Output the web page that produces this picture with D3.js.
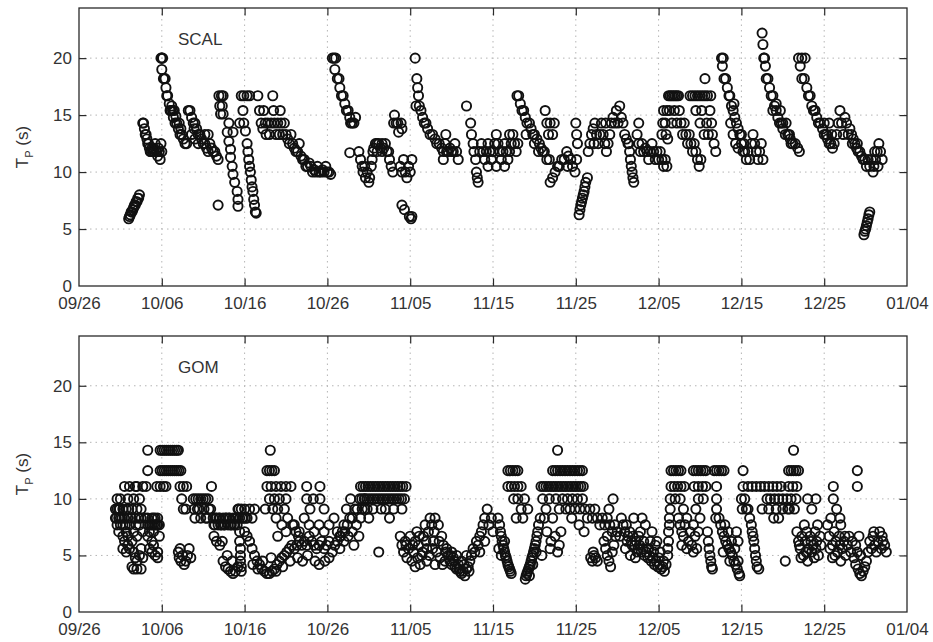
<!DOCTYPE html>
<html><head><meta charset="utf-8">
<script src="https://cdn.jsdelivr.net/npm/d3@7"></script>
<style>body{margin:0;background:#fff}text{font-family:"Liberation Sans",Arial,Helvetica,sans-serif}</style>
</head><body>
<svg id="c" width="933" height="642"></svg>
<script>
// x = days since 09/26
const xTickDays = [0,10,20,30,40,50,60,70,80,90,100];
const xTickLabels = ["09/26","10/06","10/16","10/26","11/05","11/15","11/25","12/05","12/15","12/25","01/04"];
const yTicks = [0,5,10,15,20];
const yLabel = "T";
const ySub = "P";
const yUnit = " (s)";

const scalData = [
[6.0,5.9],[6.1,6.1],[6.2,6.25],[6.3,6.5],[6.4,6.5],[6.5,6.7],[6.6,6.9],[6.7,7.1],[6.8,7.1],[6.9,7.4],[7.0,7.4],[7.1,7.7],[7.2,7.7],[7.3,8.0],
[7.7,14.3],[7.8,14.3],[7.9,13.8],[8.0,13.3],[8.1,13.3],[8.2,12.9],[8.3,12.5],[8.4,12.5],[8.5,12.1],[8.6,11.8],[8.7,11.8],[8.8,12.1],[8.9,11.8],[9.0,12.1],[9.1,11.8],[9.2,12.5],[9.3,11.8],[9.4,11.8],[9.5,11.4],[9.6,12.1],[9.7,11.8],[9.8,11.1],[9.9,12.5],[10.0,11.8],
[9.9,20],[10.0,20],[10.1,20],[10.0,19.0],[10.2,18.2],[10.3,18.2],[10.4,18.2],[10.5,17.4],[10.6,16.7],[10.7,16.7],[10.9,16.0],[11.0,15.4],[11.1,15.4],[11.3,15.4],[11.4,14.8],[11.6,14.3],[11.8,14.3],[12.0,13.8],[12.2,13.3],[12.4,13.3],[12.6,12.9],[12.8,12.5],[13.0,12.5],[11.2,15.8],[11.5,15.4],[11.7,14.9],[12.1,14.3],[12.3,13.8],
[13.2,15.4],[13.4,15.4],[13.6,14.8],[13.8,14.3],[14.0,14.3],[14.2,13.8],[14.4,13.3],[14.6,13.3],[14.8,12.9],[15.0,12.5],[15.2,12.5],[15.4,12.1],[15.6,11.8],[15.8,12.5],[16.0,12.1],[16.2,11.8],[16.4,11.8],[16.6,11.4],[16.8,11.1],[13.6,13.3],[14.0,12.9],[14.4,12.5],[13.9,13.8],[15.2,13.3],[15.6,13.3],
[16.8,7.1],[16.9,16.7],[17.2,16.7],[17.4,16.7],[17.0,15.8],[17.3,15.8],[17.1,15.1],[17.4,15.1],[18.1,14.3],[17.9,13.5],[18.1,12.7],[18.3,12.0],[18.3,11.3],[18.5,10.5],[18.6,9.8],[18.8,9.1],[19.1,8.3],[19.2,7.6],[19.2,7.0],[18.6,13.5],[19.4,14.3],
[19.6,16.7],[19.9,16.7],[20.3,16.7],[20.6,16.7],[19.8,15.4],[19.9,14.3],[20.1,13.6],[20.3,12.5],[20.4,11.8],[20.5,11.1],[20.6,10.5],[20.7,10.0],[20.8,9.3],[20.9,8.7],[21.0,8.3],[21.1,7.6],[21.2,7.1],[21.3,6.5],[21.4,6.4],
[21.6,16.7],[21.8,15.4],[22.0,14.3],[22.2,13.8],[22.3,15.4],[22.5,14.3],[22.6,13.3],[22.8,14.3],[23.0,13.3],[23.2,14.3],[23.4,16.7],[23.5,15.4],[23.6,14.3],[23.8,13.3],[24.0,14.3],[24.2,13.3],[24.3,15.4],[24.4,14.3],[24.6,13.3],[24.8,14.3],[25.0,13.3],[25.2,12.9],[25.4,12.5],[25.6,13.3],[25.8,12.5],[26.0,12.1],[26.2,11.8],[26.4,11.8],[26.6,12.5],[26.8,11.4],[27.0,11.1],[27.2,11.1],[27.4,10.5],[27.6,10.5],[27.8,10.8],[28.0,10.5],[28.2,10.0],[28.4,10.2],[28.6,10.0],[28.8,10.5],[29.0,10.0],[29.2,10.0],[29.4,10.2],[29.6,10.0],[29.8,10.5],[30.0,10.0],[30.2,10.0],[30.4,9.8],
[30.6,20],[30.8,20],[31.0,20],[30.9,19.0],[31.2,18.2],[31.4,18.2],[31.5,17.4],[31.7,16.7],[31.9,16.7],[32.1,16.0],[32.3,15.4],[32.5,15.4],[32.7,14.8],[32.8,14.3],[33.0,14.3],[33.2,14.3],[33.4,14.8],[32.7,11.7],
[33.8,11.8],[34.0,11.1],[34.2,10.5],[34.3,10.0],[34.5,10.5],[34.6,9.5],[34.8,10.0],[35.0,9.1],[35.1,9.5],[35.3,10.5],[35.4,11.1],[35.5,11.8],[35.6,12.1],[35.8,12.5],[36.0,12.5],[36.2,12.5],[36.4,12.1],[36.6,12.5],[36.8,12.1],[37.0,12.5],[37.2,11.8],[37.4,11.8],[37.5,11.1],[37.7,10.5],[37.9,10.0],[36.0,11.8],[36.6,11.8],
[38.0,14.3],[38.1,15.0],[38.3,14.3],[38.5,14.3],[38.6,13.5],[38.9,14.3],[39.0,13.8],
[38.8,10.5],[39.0,10.0],[39.2,11.1],[39.4,10.0],[39.6,9.5],[39.8,10.5],[40.0,10.0],[40.2,11.1],
[39.0,7.1],[39.3,6.7],[39.9,6.1],[40.1,5.9],[40.2,6.1],
[40.6,20],[40.8,18.2],[40.9,17.4],[41.0,16.7],[40.7,15.8],[41.1,15.8],[41.3,15.4],[41.5,14.8],[41.7,14.3],[41.9,14.3],[42.1,13.8],[42.4,13.3],[42.7,13.3],[43.0,12.9],[43.2,12.5],[43.5,12.5],[43.8,12.1],[44.0,11.8],[44.2,12.5],[44.4,11.8],[44.6,11.8],[44.8,12.1],[45.0,11.8],[45.2,11.8],[45.4,12.5],[45.6,11.8],[45.8,11.1],[44.0,11.1],[44.3,13.3],
[46.8,15.8],[47.3,14.3],[47.4,13.3],[47.6,12.5],[47.7,11.8],[47.9,11.1],[48.0,10.0],[48.1,9.5],[48.2,9.1],
[48.4,11.8],[48.6,12.5],[48.8,11.8],[49.0,11.1],[49.2,11.8],[49.4,12.5],[49.6,11.8],[49.8,11.1],[50.0,11.8],[50.2,12.5],[50.4,13.3],[50.6,12.5],[50.8,11.8],[51.0,11.1],[51.2,11.8],[51.4,12.5],[51.6,11.8],[51.8,11.1],[52.0,11.8],[52.2,12.5],[52.4,13.3],[52.6,12.5],[52.8,11.8],[53.0,12.5],[50.4,10.5],[49.4,10.5],[51.4,10.5],[52.0,13.3],
[52.9,16.7],[53.1,16.7],[53.3,16.0],[53.5,15.4],[53.7,15.4],[53.9,14.8],[54.1,14.3],[54.4,14.3],[54.6,13.8],[54.8,13.3],[55.0,13.3],[55.3,12.9],[55.6,12.5],[55.8,12.1],[56.0,11.8],[56.2,11.8],[56.5,11.1],[56.8,11.1],[54.0,13.3],[55.0,12.5],[55.5,11.8],
[56.3,15.4],[56.5,14.3],[56.7,13.3],[56.9,14.3],[57.2,13.3],[57.4,14.3],
[56.9,9.1],[57.2,9.5],[57.5,10.0],[57.8,10.5],[58.0,10.5],[58.3,11.1],[58.6,11.1],[58.9,11.8],[59.1,11.4],[59.4,11.1],[59.6,10.5],[59.9,10.0],[60.1,11.1],[59.0,10.5],
[60.4,6.25],[60.5,6.7],[60.6,7.1],[60.7,7.4],[60.8,7.7],[60.9,8.0],[61.0,8.3],[61.1,8.7],[61.2,9.1],[61.4,9.5],
[60.0,14.3],[60.1,13.3],[60.2,12.5],
[61.5,11.8],[61.7,12.5],[61.9,13.3],[62.1,13.8],[62.3,14.3],[62.5,13.3],[62.7,12.5],[62.9,13.3],[63.1,14.3],[63.3,13.3],[63.5,12.5],[63.7,11.8],[63.9,12.5],[64.1,13.3],[64.3,14.3],[64.5,14.8],[64.7,14.3],[64.9,15.4],[65.1,14.3],[65.3,15.8],[65.5,14.8],[65.7,14.3],[65.9,13.3],[66.1,12.9],[66.3,12.5],[62.2,12.5],[63.6,14.3],
[66.4,12.5],[66.5,11.8],[66.6,11.1],[66.7,10.5],[66.8,10.0],[66.9,9.5],[67.0,9.1],[67.6,14.3],
[67.4,13.3],[67.6,12.5],[67.8,11.8],[68.0,12.5],[68.2,11.8],[68.4,12.1],[68.6,11.8],[68.8,11.1],[69.0,11.8],[69.2,12.5],[69.4,11.8],[69.6,11.1],[69.8,11.8],[70.0,11.1],[70.2,11.8],[70.4,11.1],[70.6,10.5],[70.8,11.1],[71.0,10.5],[71.1,12.9],
[70.4,13.3],[70.5,14.3],[70.6,15.4],[70.8,14.3],[70.9,13.3],[71.0,15.4],[71.2,16.7],[71.4,16.7],[71.6,16.7],[71.8,16.7],[72.0,16.7],[72.2,16.7],[72.4,16.7],[71.3,15.4],[71.6,14.3],[71.9,15.4],[72.2,14.3],[72.5,15.4],[72.7,14.3],[72.9,13.3],[73.1,14.3],[73.3,13.3],[73.5,12.5],[73.7,13.3],[73.9,12.5],[74.1,11.8],[74.3,12.5],[74.5,11.8],[74.7,11.1],[74.9,10.5],[75.1,11.1],
[73.8,16.7],[74.1,16.7],[74.4,16.7],[74.7,16.7],[75.0,16.7],[75.3,16.7],[75.6,16.7],[75.9,16.7],[76.3,16.7],[75.6,18.2],
[76.2,15.4],[76.4,14.3],[76.5,13.3],[76.7,12.5],[76.9,11.8],[74.5,15.4],[75.0,14.3],[75.2,15.4],[75.5,13.3],[75.8,14.3],[76.0,13.3],
[77.6,20],[77.8,20],[77.7,19.3],[77.9,18.2],[78.1,18.2],[78.3,17.4],[78.5,16.7],[78.6,16.7],[78.8,15.8],[79.0,15.4],[79.2,14.8],[79.4,14.3],[79.6,13.8],[79.8,13.3],[80.0,12.5],[80.2,11.8],[80.4,11.8],[78.7,14.3],[79.0,13.3],[79.3,12.5],[79.6,12.1],[79.1,16.0],[80.0,13.3],[80.3,12.5],[80.6,11.1],[80.8,11.8],[81.0,11.1],
[81.2,12.5],[81.4,13.3],[81.6,12.5],[81.8,11.8],[82.0,11.1],[82.2,11.8],[82.4,12.5],[82.6,11.1],
[82.5,22.2],[82.6,21.2],[82.7,20],[82.8,20],[82.9,19.3],[83.0,18.2],[83.2,18.2],[83.4,17.4],[83.6,16.7],[83.8,16.7],[84.0,15.8],[84.2,15.4],[84.4,14.8],[84.6,14.3],[84.8,14.3],[85.0,13.8],[85.3,13.3],[85.6,13.3],[85.9,12.9],[86.2,12.5],[86.5,12.5],[86.8,12.1],[87.0,11.8],[83.8,15.4],[84.2,16.0],[84.7,15.4],[85.0,14.3],[85.4,14.3],[85.8,13.3],[86.0,12.5],
[86.9,20],[87.3,20],[87.7,20],[87.1,19.3],[87.3,18.2],[87.6,18.2],[87.9,17.4],[88.1,16.7],[88.3,16.7],[88.5,15.8],[88.7,15.4],[88.9,15.4],[89.1,14.8],[89.3,14.3],[89.5,14.3],[89.8,13.8],[90.0,13.3],[90.2,13.3],[90.4,12.9],[90.6,12.5],[90.8,12.5],[91.0,12.1],
[90.0,14.3],[90.3,13.3],[90.6,14.3],[90.9,13.3],[91.2,12.5],[91.5,13.3],[91.7,14.3],[91.9,15.4],[92.1,14.3],[92.3,13.3],[92.5,14.8],[92.7,14.3],[92.9,13.3],
[93.1,13.8],[93.3,13.3],[93.5,12.9],[93.7,12.5],[93.9,12.1],[94.1,11.8],[94.3,11.8],[94.5,11.4],[94.7,11.1],[94.9,11.1],[93.4,12.5],[94.0,12.5],
[95.1,10.5],[95.3,11.1],[95.5,10.5],[95.7,11.1],[95.9,10.0],[96.0,10.5],[96.2,11.1],[96.4,11.8],[96.6,12.5],[96.8,11.8],[97.0,11.1],[96.5,10.5],[96.1,11.8],
[94.8,4.5],[94.9,4.8],[95.0,5.0],[95.1,5.3],[95.2,5.6],[95.3,5.9],[95.4,6.25],[95.5,6.5]
];

const gomData = [
[4.4,9.1],[4.4,8.3],[4.6,10.0],[4.6,9.1],[4.6,7.7],[4.8,9.1],[4.8,8.3],[4.8,7.1],[5.0,10.0],[5.0,8.3],[5.0,7.7],
[4.5,8.3],[4.9,9.1],[5.2,8.3],[5.6,7.7],[6.0,9.1],[6.3,8.3],[6.9,7.7],[7.2,8.3],[8.0,8.3],[8.6,7.7],[9.0,7.1],[9.4,7.7],
[5.3,9.1],[5.3,7.7],[5.3,6.7],[5.3,5.6],[5.5,11.1],[5.5,8.3],[5.5,6.25],[5.7,9.1],[5.7,7.1],[5.7,5.3],
[5.9,10.0],[5.9,8.3],[5.9,6.7],[5.9,5.9],[6.1,11.1],[6.1,7.7],[6.1,5.6],[6.4,9.1],[6.4,6.25],[6.4,4.0],
[6.6,10.0],[6.6,7.1],[6.6,5.3],[6.6,3.8],[6.8,11.1],[6.8,8.3],[6.8,4.8],[7.0,11.1],[7.0,9.1],[7.0,6.7],[7.0,4.5],[7.0,3.8],
[7.3,10.0],[7.3,7.7],[7.3,5.0],[7.5,9.1],[7.5,8.3],[7.5,5.6],[7.5,3.8],[7.7,11.1],[7.7,7.1],[7.7,4.8],
[8.3,14.3],[8.3,12.5],[8.1,11.1],[8.3,8.3],[8.3,7.7],[8.3,6.7],[8.5,7.1],[8.5,5.6],
[8.8,8.3],[8.8,7.7],[8.8,6.25],[8.8,5.3],[9.0,8.3],[9.0,7.7],[9.0,5.9],[9.2,7.7],[9.2,8.3],[9.2,5.0],[9.5,8.3],[9.5,7.7],[9.5,5.3],[9.5,4.8],[9.7,7.7],[9.7,6.7],
[9.8,14.3],[10.05,14.3],[10.3,14.3],[10.55,14.3],[10.8,14.3],[11.05,14.3],[11.3,14.3],[11.55,14.3],[11.8,14.3],[12.0,14.3],
[9.8,12.5],[10.05,12.5],[10.3,12.5],[10.55,12.5],[10.8,12.5],[11.05,12.5],[11.3,12.5],[11.55,12.5],[11.8,12.5],[12.05,12.5],[12.3,12.5],
[9.4,11.1],[9.8,11.1],[10.2,11.1],[10.5,11.1],[12.2,11.1],[12.6,11.1],[13.0,11.1],[12.4,10.0],[12.6,9.1],[12.9,9.1],
[12.0,5.3],[12.2,5.6],[12.3,4.5],[12.5,5.0],[12.7,4.2],[12.9,4.5],[13.1,5.0],[13.3,5.6],[13.5,4.8],[12.1,4.8],
[13.8,10],[14.1,10],[14.4,10],[14.7,10],[15.0,10],[15.3,10],[15.6,10],[13.9,9.1],[14.3,9.1],[14.7,8.3],[15.1,9.1],[15.5,8.3],[15.9,9.1],[16.0,11.1],
[14.0,8.3],[14.5,9.1],[15.3,8.3],[15.7,9.1],
[16.2,8.3],[16.4,7.7],[16.6,8.3],[16.8,7.7],[17.0,8.3],[17.2,7.7],[17.4,8.3],[17.6,7.7],[17.8,8.3],[18.0,7.7],[18.2,8.3],[18.4,7.7],[18.6,8.3],[18.8,7.7],[19.0,8.3],[19.2,9.1],[19.4,8.3],[19.6,9.1],[19.8,8.3],[20.0,9.1],[20.3,8.3],[20.6,9.1],[20.9,8.3],[21.2,9.1],
[16.3,7.7],[16.5,8.3],[16.9,8.3],[17.1,7.7],[17.5,7.7],[17.7,8.3],[18.1,8.3],[18.3,7.7],[18.7,7.7],[18.9,8.3],[19.1,7.7],[19.3,9.1],[19.7,8.3],[20.1,8.3],
[16.3,6.7],[16.6,6.25],[17.0,5.9],[17.3,6.25],
[17.4,4.5],[17.7,4.0],[18.0,3.8],[18.3,3.6],[18.6,3.4],[18.9,3.6],[19.2,4.0],[17.9,5.0],[18.5,4.5],
[19.4,7.1],[19.4,6.25],[19.5,5.6],[19.5,5.0],[19.5,4.5],[19.6,4.0],[19.6,3.6],
[20.0,7.1],[20.3,6.7],[20.6,6.25],[20.9,5.6],[21.2,5.0],[21.5,4.5],[21.8,4.2],[22.1,3.8],[22.4,3.6],[22.7,3.4],[23.0,3.4],[23.3,3.6],[23.6,3.8],[23.9,4.2],[24.2,4.5],[24.5,4.8],[24.8,5.0],[25.1,5.3],[25.4,5.6],[25.7,5.9],[26.0,5.6],[26.3,5.9],[26.6,6.25],[26.9,5.9],[27.2,6.25],[27.5,5.9],[27.8,6.7],[28.1,6.25],[28.4,5.9],[28.7,5.6],[29.0,5.9],[29.3,6.25],[29.6,5.6],[29.9,5.9],[30.2,6.25],
[21.0,4.2],[21.6,3.8],[22.2,4.5],[23.2,4.8],[23.8,3.6],[24.6,4.0],[25.5,4.5],[26.4,4.8],[27.0,4.5],[27.6,5.0],[28.5,4.5],[29.0,4.2],[29.7,4.5],[30.2,4.8],
[26.0,7.7],[26.6,7.1],[27.2,8.3],[27.8,7.7],[28.4,7.1],[29.0,7.7],[29.6,7.1],[30.2,7.7],[30.8,8.3],[31.2,7.1],[31.6,6.7],[32.0,7.7],
[23.1,14.3],[22.7,12.5],[23.0,12.5],[23.3,12.5],[23.6,12.5],[22.7,11.1],[23.2,11.1],[23.8,11.1],[24.4,11.1],[25.0,11.1],[25.6,11.1],
[23.0,10],[23.6,10],[24.2,10],[25.0,10],[22.5,9.1],[23.4,9.1],[24.0,9.1],[24.8,9.1],[23.8,8.3],[24.5,7.7],[25.2,8.3],[25.8,7.7],[24.0,6.7],[25.0,7.1],[26.2,7.1],[26.5,6.7],
[27.5,11.1],[29.1,11.1],[27.5,10],[28.3,10],[29.1,10],[29.6,9.1],[27.9,9.1],
[30.6,5.3],[30.9,5.9],[31.2,6.25],[31.5,6.7],[31.8,7.1],[32.1,7.1],[32.4,7.7],[32.7,8.3],[33.0,8.3],[33.3,9.1],[33.6,9.1],[33.9,10],[34.2,9.1],[34.5,10],[34.8,9.1],[31.5,5.6],[32.0,6.25],[32.5,6.7],[33.0,7.1],[33.5,7.7],[34.0,8.3],[32.3,9.1],[32.8,10],[33.2,5.9],[33.8,6.7],
[34.0,11.1],[34.3,11.1],[34.6,11.1],[34.9,11.1],[35.2,11.1],[35.5,11.1],[35.8,11.1],[36.1,11.1],[36.4,11.1],[36.7,11.1],[37.0,11.1],[37.3,11.1],[37.6,11.1],[37.9,11.1],[38.2,11.1],[38.5,11.1],[38.8,11.1],[39.1,11.1],[39.5,11.1],
[34.15,10],[34.45,10],[34.75,10],[35.05,10],[35.35,10],[35.65,10],[35.95,10],[36.25,10],[36.55,10],[36.85,10],[37.15,10],[37.45,10],[37.75,10],[38.05,10],[38.35,10],[38.65,10],[38.95,10],[39.3,10],
[34.5,9.1],[35.5,9.1],[36.5,9.1],[37.0,9.1],[38.0,9.1],[39.0,9.1],[35.0,8.3],[37.5,8.3],[36.2,5.3],
[38.8,6.7],[39.0,5.9],[39.2,5.3],[39.4,6.25],[39.6,4.8],[39.8,5.6],[40.0,6.7],[40.2,4.5],[40.4,5.3],[40.6,6.25],[40.8,7.1],[41.0,5.9],[41.2,4.2],[41.4,5.0],[41.6,6.7],[41.8,7.7],[42.0,5.6],[42.2,7.1],[42.4,8.3],[42.6,7.7],[42.8,6.25],[43.0,8.3],[43.2,5.3],[43.4,7.7],[43.6,4.8],[43.8,6.7],[44.0,5.9],[44.2,4.5],[44.4,5.6],[44.6,5.0],[40.6,4.0],[42.0,4.5],[43.0,4.2],[42.9,7.1],[41.5,5.3],
[39.5,5.9],[40.3,5.9],[41.1,6.7],[41.9,6.25],[42.7,5.6],[43.5,6.25],[44.3,5.3],[40.9,4.8],[42.3,5.0],[43.9,4.2],
[44.8,4.5],[45.0,4.2],[45.2,4.8],[45.4,4.0],[45.6,3.8],[45.8,4.2],[46.0,3.6],[46.2,3.4],[46.4,3.6],[46.6,3.2],[46.8,3.8],[47.0,4.0],[47.2,4.5],[45.6,5.0],[46.2,4.5],[46.8,5.0],[45.0,5.3],
[45.3,4.5],[45.9,3.8],[46.5,4.2],[47.1,3.6],[44.9,5.0],
[47.4,5.0],[47.6,5.6],[47.8,5.3],[48.0,6.25],[48.2,5.9],[48.4,6.7],[48.6,7.1],[48.8,7.7],[49.0,8.3],[49.3,9.1],[48.4,5.3],[49.0,6.25],[49.5,7.7],[49.8,8.3],[50.0,7.1],
[50.6,8.3],[50.8,7.7],[50.9,7.1],[51.0,6.7],[51.1,6.25],[51.2,5.9],[51.3,5.6],[51.4,5.3],[51.5,5.0],[51.6,4.8],[51.7,4.5],[51.8,4.2],[51.9,4.0],[52.0,3.8],[52.1,3.6],[52.2,3.4],[50.7,5.6],[51.0,5.0],[51.4,6.25],
[51.8,12.5],[52.1,12.5],[52.4,12.5],[52.7,12.5],[53.0,12.5],[51.8,11.1],[52.2,11.1],[52.6,11.1],[53.0,11.1],[53.4,11.1],
[52.5,10],[53.0,10],[53.4,9.1],[53.8,10],[54.2,9.1],[52.8,8.3],[53.6,8.3],
[53.9,2.9],[54.0,3.2],[54.1,3.4],[54.2,3.6],[54.3,3.8],[54.4,4.0],[54.5,4.2],[54.6,4.5],[54.7,4.8],[54.8,5.0],[54.9,5.3],[55.0,5.6],[55.1,5.9],[55.2,6.25],[55.3,6.7],[55.4,7.1],[55.5,7.7],[55.7,8.3],[54.4,3.2],[54.8,4.2],[55.2,5.3],
[55.8,11.1],[56.1,11.1],[56.4,11.1],[56.7,11.1],[57.0,11.1],[57.3,11.1],[57.6,11.1],[57.9,11.1],[58.2,11.1],[58.5,11.1],[58.8,11.1],[59.1,11.1],[59.4,11.1],[59.7,11.1],[60.0,11.1],[60.3,11.1],[60.6,11.1],[60.9,11.1],
[57.2,12.5],[57.5,12.5],[57.8,12.5],[58.1,12.5],[58.4,12.5],[58.7,12.5],[59.0,12.5],[59.3,12.5],[59.6,12.5],[59.9,12.5],[60.2,12.5],[60.5,12.5],[60.8,12.5],[57.8,14.3],
[56.0,10],[56.4,9.1],[56.8,10],[57.2,8.3],[57.6,10],[58.0,9.1],[58.4,10],[58.8,9.1],[56.2,8.3],
[56.5,7.1],[57.0,6.25],[57.5,6.7],[57.8,5.3],[56.9,5.6],[58.2,7.1],[58.0,5.9],[55.9,5.0],
[59.0,10],[59.3,9.1],[59.6,10],[59.9,9.1],[60.2,10],[60.5,9.1],[60.8,10],[61.1,9.1],[61.4,8.3],[61.7,9.1],[62.0,8.3],[62.3,9.1],[62.6,8.3],[62.9,7.7],[63.2,8.3],[63.5,7.7],[63.8,8.3],[64.1,7.7],[64.4,7.1],[64.7,7.7],[65.0,7.1],[65.3,6.7],[59.5,8.3],[60.4,7.7],[61.0,7.1],[64.0,9.1],[64.5,10],
[61.8,4.8],[62.0,4.5],[62.2,5.0],[62.4,4.8],[62.6,4.5],[62.1,5.3],
[63.4,6.25],[63.6,5.6],[63.8,5.0],[64.0,4.5],[64.2,4.0],[64.4,5.3],[64.6,5.9],[64.8,6.7],[63.8,6.7],
[65.5,8.3],[65.7,7.7],[65.9,7.1],[66.1,7.7],[66.3,6.7],[66.5,7.1],[66.7,6.25],[66.9,6.7],[67.1,5.9],[67.3,6.25],[67.5,5.6],[67.7,5.9],[67.9,5.3],[68.1,5.6],[68.3,5.0],[68.5,5.3],[68.7,4.8],[68.9,5.0],[69.1,4.5],[69.3,4.8],[69.5,4.2],[69.7,4.5],[69.9,4.0],[70.1,4.2],[70.3,3.8],[70.5,4.0],[70.7,3.6],[70.9,4.2],[66.0,5.6],[66.6,5.0],[67.2,4.8],[67.8,7.1],[68.4,7.7],[69.0,6.25],[69.6,5.9],[70.2,5.3],[68.0,8.3],[67.0,8.3],[69.2,7.1],
[66.2,6.25],[66.8,5.9],[67.4,5.3],[68.2,6.25],[68.8,5.6],[69.4,5.3],[70.0,4.8],[70.6,4.5],[67.6,6.7],[69.8,6.25],
[71.1,5.0],[71.1,5.6],[71.2,6.25],[71.2,7.1],[71.3,7.7],[71.3,8.3],[71.4,9.1],[71.4,10],
[71.5,12.5],[71.8,12.5],[72.1,12.5],[72.4,12.5],[72.7,12.5],[71.5,11.1],[71.9,11.1],[72.3,11.1],[72.7,11.1],[73.1,11.1],[72.0,10],[72.6,10],
[72.4,8.3],[72.6,7.7],[72.8,7.1],[73.0,6.7],[73.2,7.7],[73.4,8.3],[73.6,6.25],[73.8,7.1],[74.0,5.9],[74.2,7.7],[74.4,6.7],[74.6,5.6],[74.8,7.1],[75.0,8.3],[72.8,5.9],[73.4,5.6],[74.2,5.3],[73.0,9.1],[74.5,9.1],
[74.2,12.5],[74.5,12.5],[74.8,12.5],[75.1,12.5],[75.4,12.5],[75.7,12.5],[74.3,11.1],[74.8,11.1],[75.3,11.1],[75.7,11.1],[74.8,10],[75.4,10],
[75.9,7.1],[76.0,6.25],[76.1,5.6],[76.2,5.0],[76.3,4.5],[76.4,4.0],[76.5,3.8],
[76.7,12.5],[77.0,12.5],[77.3,12.5],[77.6,12.5],[77.9,12.5],[77.0,11.1],[77.0,10],[77.0,9.1],[76.9,8.3],
[77.3,8.3],[77.5,7.7],[77.7,7.1],[77.9,6.7],[78.1,6.25],[78.3,5.9],[78.5,5.6],[78.7,5.3],[78.9,5.0],[79.1,4.5],[79.3,4.2],[79.5,3.8],[79.7,3.4],[79.8,3.2],[78.0,7.7],[78.4,7.1],[78.8,6.25],[79.2,5.6],[79.6,4.5],[78.6,4.5],[77.8,5.3],
[80.2,12.5],[80.2,11.1],[80.0,10],[80.4,10],[80.6,9.1],[80.1,9.1],[79.4,7.1],[79.6,6.25],
[80.8,9.1],[81.0,8.3],[81.2,7.7],[81.3,7.1],[81.4,6.7],[81.5,6.25],[81.6,5.6],[81.7,5.0],[81.8,4.5],[81.9,4.0],[82.1,3.8],
[80.8,11.1],[81.3,11.1],[81.8,11.1],[82.3,11.1],[82.8,11.1],[83.3,11.1],[83.8,11.1],[84.3,11.1],[84.8,11.1],
[83.1,10],[83.5,10],[84.0,10],[84.5,10],[85.0,10],[85.5,10],[82.5,9.1],[83.3,9.1],[84.2,9.1],[85.0,9.1],[85.8,9.1],[83.9,8.3],[84.5,8.3],[85.3,4.5],
[85.7,12.5],[86.0,12.5],[86.3,12.5],[86.6,12.5],[86.9,12.5],[86.3,14.3],[85.7,11.1],[86.2,11.1],[86.7,11.1],[86.0,10],[86.6,10],[85.6,9.1],[86.4,9.1],
[86.7,7.1],[86.9,6.25],[87.1,5.6],[87.3,6.7],[87.5,5.0],[87.7,6.25],[87.9,7.1],[88.1,5.6],[88.3,6.7],[88.5,5.3],[88.7,5.9],[88.9,7.1],[89.1,6.25],[89.3,5.0],[89.5,6.7],[87.2,4.8],[88.0,4.5],[88.8,4.8],[89.2,7.7],[87.6,7.7],
[87.0,5.9],[87.8,5.3],[88.4,6.25],[89.0,5.6],[89.6,5.9],
[88.0,10],[88.5,9.1],[89.0,10],
[90.4,7.7],[90.6,6.7],[90.8,8.3],[91.0,5.9],[91.2,7.1],[91.4,6.25],[91.6,5.3],[91.8,6.7],[92.0,7.7],[92.2,5.6],[92.4,6.25],[92.6,5.0],[92.8,5.9],[91.0,4.8],[92.0,4.5],
[90.7,5.6],[91.3,5.0],[91.9,5.9],[92.5,6.7],
[91.1,11.1],[91.1,10],[91.5,9.1],[91.9,8.3],[94.0,12.5],[94.0,11.1],
[93.0,6.7],[93.2,5.3],[93.4,6.25],[93.6,4.8],[93.8,5.9],[94.0,5.3],[94.2,6.7],[94.4,5.0],
[93.8,4.2],[94.1,3.8],[94.3,3.4],[94.5,3.2],[94.7,3.6],[94.9,4.0],[95.1,4.5],
[95.3,5.3],[95.5,6.25],[95.7,5.6],[95.9,6.7],[96.1,5.9],[96.3,5.3],[96.5,6.25],[96.7,7.1],[96.9,5.6],[97.1,6.25],[97.3,5.9],[97.5,5.3],[96.0,7.1],[97.0,6.7]
];

const svg = d3.select("#c");
const x = d3.scaleLinear().domain([0, 100]).range([79, 907]);
const panels = [
  {name: "SCAL", data: scalData, top: 8, bottom: 286},
  {name: "GOM", data: gomData, top: 336, bottom: 612}
];
const ink = "#2a2a2a";

panels.forEach(p => {
  const y = d3.scaleLinear().domain([0, 24.4]).range([p.bottom, p.top]);
  const g = svg.append("g");

  // dotted grid
  g.append("g").selectAll("line").data(xTickDays.slice(1, -1)).join("line")
    .attr("x1", d => x(d)).attr("x2", d => x(d))
    .attr("y1", p.top).attr("y2", p.bottom)
    .attr("stroke", "#b5b5b5").attr("stroke-width", 1).attr("stroke-dasharray", "1.5,4");
  g.append("g").selectAll("line").data(yTicks.slice(1)).join("line")
    .attr("x1", x.range()[0]).attr("x2", x.range()[1])
    .attr("y1", d => y(d)).attr("y2", d => y(d))
    .attr("stroke", "#b5b5b5").attr("stroke-width", 1).attr("stroke-dasharray", "1.5,4");

  // points
  g.append("g").selectAll("circle").data(p.data).join("circle")
    .attr("cx", d => x(d[0])).attr("cy", d => y(d[1]))
    .attr("r", 4.6).attr("fill", "none")
    .attr("stroke", "#111").attr("stroke-width", 1.9);

  // axes
  const fs = "17px";
  const ax = g.append("g").attr("transform", `translate(0,${p.bottom})`)
    .call(d3.axisBottom(x).tickValues(xTickDays).tickFormat((d, i) => xTickLabels[i])
      .tickSizeInner(-7.5).tickSizeOuter(0).tickPadding(11));
  const axT = g.append("g").attr("transform", `translate(0,${p.top})`)
    .call(d3.axisTop(x).tickValues(xTickDays).tickFormat("").tickSizeInner(-7.5).tickSizeOuter(0));
  const ay = g.append("g").attr("transform", `translate(${x.range()[0]},0)`)
    .call(d3.axisLeft(y).tickValues(yTicks).tickFormat(d3.format("d"))
      .tickSizeInner(-7.5).tickSizeOuter(0).tickPadding(7));
  const ayR = g.append("g").attr("transform", `translate(${x.range()[1]},0)`)
    .call(d3.axisRight(y).tickValues(yTicks).tickFormat("").tickSizeInner(-7.5).tickSizeOuter(0));
  [ax, axT, ay, ayR].forEach(a => {
    a.select(".domain").remove();
    a.selectAll(".tick line").attr("stroke", ink).attr("stroke-width", 1.2);
    a.selectAll(".tick text").attr("fill", "#333").style("font-size", fs)
      .style("font-family", '"Liberation Sans", Arial, Helvetica, sans-serif');
  });
  [ax, axT].forEach(a => a.selectAll(".tick").filter(d => d === 0 || d === 100).select("line").remove());
  [ay, ayR].forEach(a => a.selectAll(".tick").filter(d => d === 0).select("line").remove());

  // box
  g.append("rect").attr("x", x.range()[0]).attr("y", p.top)
    .attr("width", x.range()[1] - x.range()[0]).attr("height", p.bottom - p.top)
    .attr("fill", "none").attr("stroke", ink).attr("stroke-width", 1.3);

  // panel name
  g.append("text").attr("x", 178).attr("y", p.top + 37)
    .attr("fill", "#333").style("font-size", "17px").text(p.name);

  // y title
  const t = g.append("text")
    .attr("transform", `translate(28,${(p.top + p.bottom) / 2}) rotate(-90)`)
    .attr("text-anchor", "middle").attr("fill", "#333").style("font-size", "17px");
  t.append("tspan").text(yLabel);
  t.append("tspan").text(ySub).style("font-size", "11px").attr("dy", 5);
  t.append("tspan").text(yUnit).attr("dy", -5);
});
</script>
</body></html>
